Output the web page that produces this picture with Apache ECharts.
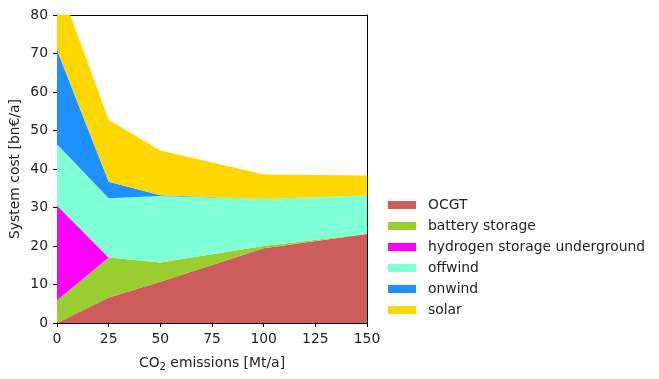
<!DOCTYPE html>
<html>
<head>
<meta charset="utf-8">
<script src="https://cdn.jsdelivr.net/npm/echarts@6/dist/echarts.min.js"></script>
<style>html,body{margin:0;padding:0;background:#fff}#c{width:659px;height:379px}</style>
</head>
<body>
<div id="c"></div>
<script>
const co2 = [0, 25, 50, 100, 150];
const OCGT = [0, 6.6, 10.7, 19.4, 23.1];
const battery = [5.9, 10.4, 5.0, 0.6, 0.1];
const hydrogen = [24.6, 0, 0, 0, 0];
const offwind = [15.9, 15.4, 17.3, 12.2, 9.9];
const onwind = [24.5, 4.3, 0.2, 0, 0];
const solar = [18.5, 16.0, 11.6, 6.4, 5.2];
const seriesNames = ['OCGT', 'battery storage', 'hydrogen storage underground', 'offwind', 'onwind', 'solar'];
const seriesData = [OCGT, battery, hydrogen, offwind, onwind, solar];
const colors = ['#cd5c5c', '#9acd32', '#ff00ff', '#7fffd4', '#1e90ff', '#ffd700'];

const font = 'DejaVu Sans';
const fs = 13.9;
const chart = echarts.init(document.getElementById('c'), null, {renderer: 'canvas'});
const axisCommon = {
  axisLine: {show: true, lineStyle: {color: '#000', width: 1}},
  axisTick: {show: true, length: 4, lineStyle: {color: '#000'}},
  splitLine: {show: false}
};
chart.setOption({
  animation: false,
  color: colors,
  grid: {left: 57, right: 292, top: 15, bottom: 56},
  legend: {
    orient: 'vertical', left: 388, top: 198, padding: 0,
    icon: 'rect', itemWidth: 28, itemHeight: 8, itemGap: 7,
    textStyle: {fontFamily: font, fontSize: fs, color: '#222', lineHeight: 14, padding: [0, 0, 0, 7]},
    data: seriesNames
  },
  xAxis: [{
    type: 'value', min: 0, max: 150, interval: 25,
    ...axisCommon,
    axisLabel: {fontFamily: font, fontSize: fs, color: '#222', margin: 9},
    name: 'CO{sub|2} emissions [Mt/a]', nameLocation: 'middle', nameGap: 32,
    nameTextStyle: {fontFamily: font, fontSize: fs, color: '#222', rich: {sub: {fontFamily: font, fontSize: 10, color: '#222', verticalAlign: 'bottom', padding: [7, 0, 0, 0]}}}
  }, {
    type: 'value', min: 0, max: 150, position: 'top',
    axisLine: {show: true, onZero: false, lineStyle: {color: '#000'}}, axisTick: {show: false}, axisLabel: {show: false}, splitLine: {show: false}
  }],
  yAxis: [{
    type: 'value', min: 0, max: 80, interval: 10,
    ...axisCommon,
    axisLabel: {fontFamily: font, fontSize: fs, color: '#222', margin: 9},
    name: 'System cost [bn€/a]', nameLocation: 'middle', nameGap: 35,
    nameTextStyle: {fontFamily: font, fontSize: fs, color: '#222'}
  }, {
    type: 'value', min: 0, max: 80, position: 'right',
    axisLine: {show: true, onZero: false, lineStyle: {color: '#000'}}, axisTick: {show: false}, axisLabel: {show: false}, splitLine: {show: false}
  }],
  series: seriesNames.map((n, i) => ({
    name: n, type: 'line', stack: 'total',
    // value first so that the stacked dimension is y
    data: co2.map((x, j) => [seriesData[i][j], x]),
    encode: {x: 1, y: 0},
    showSymbol: false, symbol: 'none',
    lineStyle: {width: 0},
    areaStyle: {color: colors[i], opacity: 1},
    itemStyle: {color: colors[i]},
    z: 1
  }))
});
</script>
</body>
</html>
